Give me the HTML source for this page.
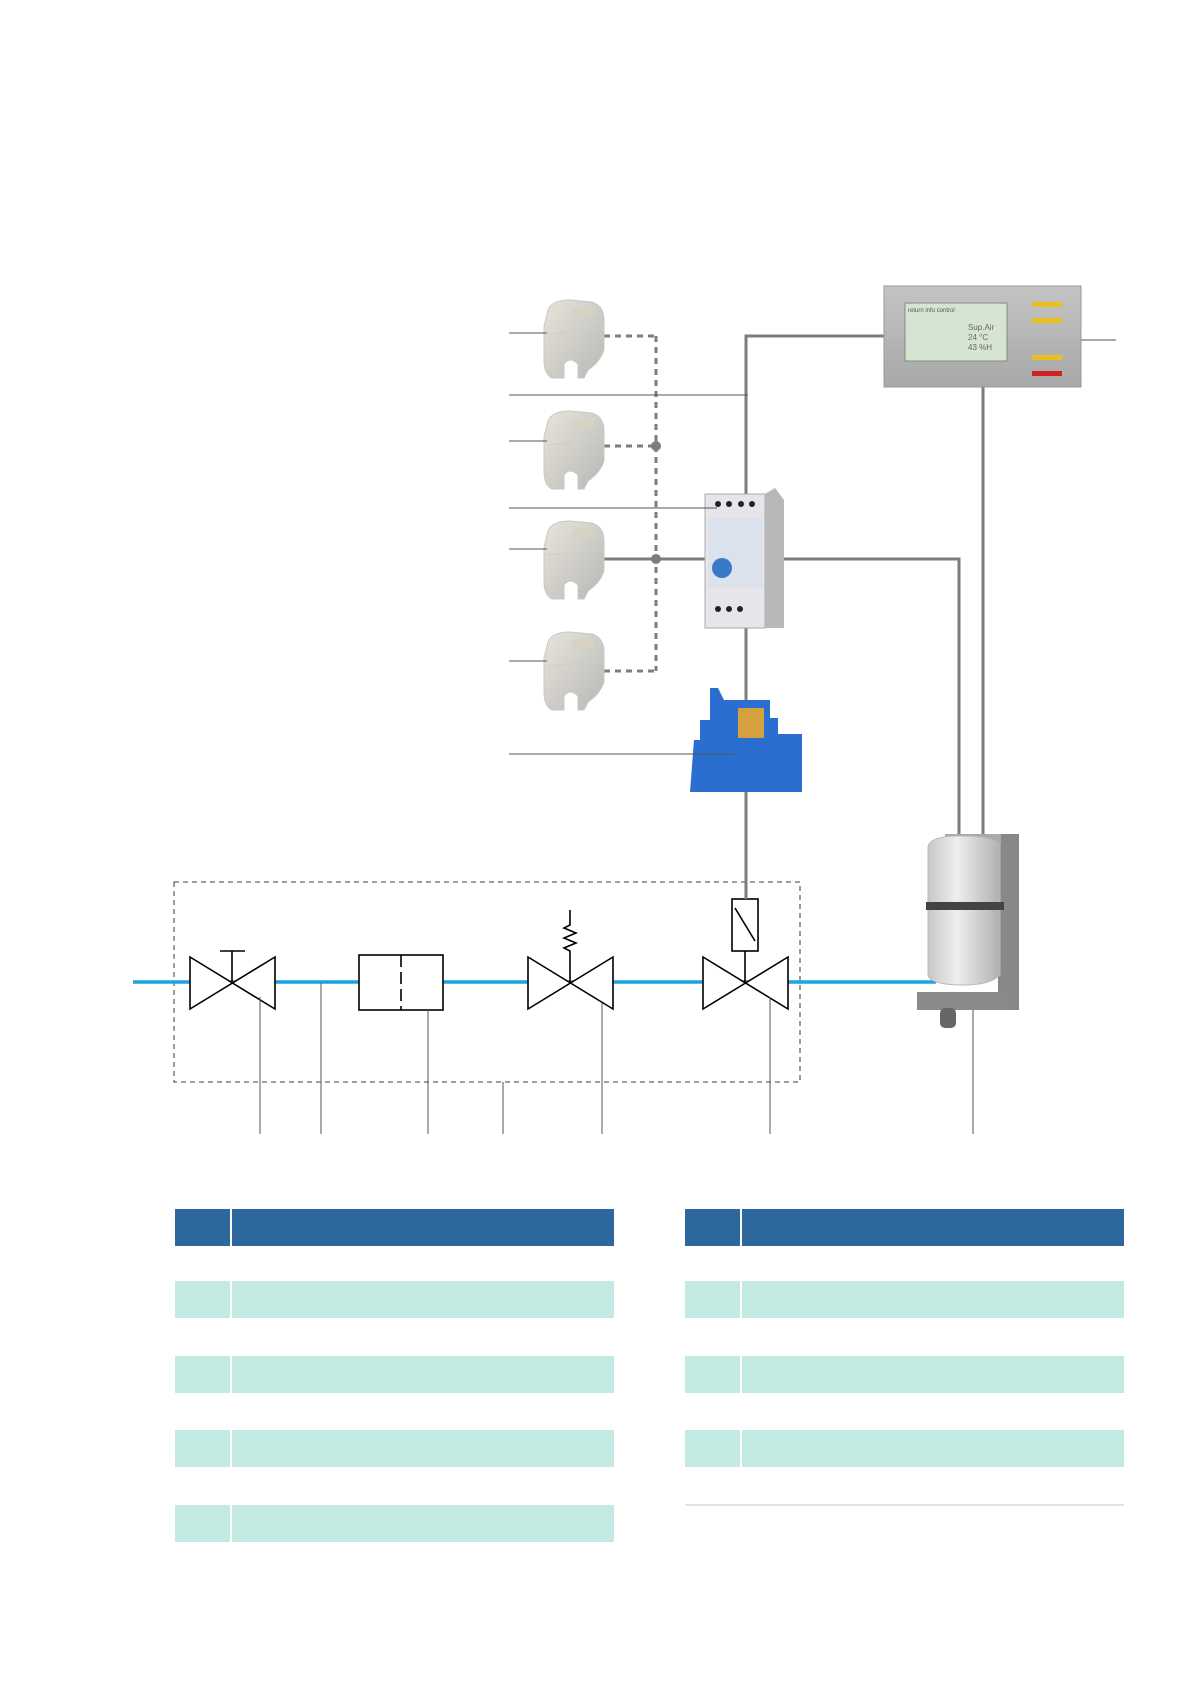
<!DOCTYPE html>
<html><head><meta charset="utf-8"><style>html,body{margin:0;padding:0;background:#fff}svg{display:block}</style></head>
<body>
<svg width="1191" height="1684" viewBox="0 0 1191 1684" xmlns="http://www.w3.org/2000/svg" font-family="Liberation Sans, sans-serif">
<defs>
<linearGradient id="sg" x1="0" y1="0" x2="1" y2="1"><stop offset="0" stop-color="#e8e4dc"/><stop offset="1" stop-color="#b8b8b4"/></linearGradient>
<linearGradient id="dg" x1="0" y1="0" x2="0" y2="1"><stop offset="0" stop-color="#c4c4c4"/><stop offset="1" stop-color="#a8a8a8"/></linearGradient>
<linearGradient id="cg" x1="0" y1="0" x2="1" y2="0"><stop offset="0" stop-color="#c8c8c8"/><stop offset="0.4" stop-color="#eeeeee"/><stop offset="1" stop-color="#b0b0b0"/></linearGradient>
<g id="sensor">
<path d="M8 10 Q12 0 30 0 L52 2 Q64 6 64 20 L64 50 Q60 62 48 70 L44 78 L38 78 L38 64 Q30 56 24 64 L24 78 L12 78 Q4 74 4 60 L4 26 Z" fill="url(#sg)" stroke="#c8c8c4" stroke-width="1"/>
<rect x="32" y="8" width="22" height="8" fill="#d8d2c4"/>
<line x1="8" y1="34" x2="60" y2="30" stroke="#ccc"/>
</g>
</defs>

<!-- Tables -->
<g>
<rect x="175" y="1209" width="55" height="37" fill="#2d679d"/><rect x="232" y="1209" width="382" height="37" fill="#2d679d"/>
<rect x="685" y="1209" width="55" height="37" fill="#2d679d"/><rect x="742" y="1209" width="382" height="37" fill="#2d679d"/>
<g fill="#c2e9e2">
<rect x="175" y="1281" width="55" height="37"/><rect x="232" y="1281" width="382" height="37"/>
<rect x="175" y="1356" width="55" height="37"/><rect x="232" y="1356" width="382" height="37"/>
<rect x="175" y="1430" width="55" height="37"/><rect x="232" y="1430" width="382" height="37"/>
<rect x="175" y="1505" width="55" height="37"/><rect x="232" y="1505" width="382" height="37"/>
<rect x="685" y="1281" width="55" height="37"/><rect x="742" y="1281" width="382" height="37"/>
<rect x="685" y="1356" width="55" height="37"/><rect x="742" y="1356" width="382" height="37"/>
<rect x="685" y="1430" width="55" height="37"/><rect x="742" y="1430" width="382" height="37"/>
</g>
<line x1="685" y1="1505" x2="1124" y2="1505" stroke="#dcdcdc" stroke-width="1.5"/>
</g>

<!-- Dashed box -->
<rect x="174" y="882" width="626" height="200" fill="none" stroke="#666" stroke-width="1.3" stroke-dasharray="5,4"/>

<!-- Pipe -->
<line x1="133" y1="982" x2="936" y2="982" stroke="#1ba3e0" stroke-width="3.5"/>

<!-- Symbols -->
<g stroke="#000" stroke-width="1.6" fill="#fff">
<path d="M190 957 L275 1009 L275 957 L190 1009 Z"/>
<line x1="232" y1="982" x2="232" y2="951"/><line x1="220" y1="951" x2="245" y2="951"/>
<rect x="359" y="955" width="84" height="55"/>
<line x1="401" y1="955" x2="401" y2="1010" stroke-dasharray="12,5"/>
<path d="M528 957 L613 1009 L613 957 L528 1009 Z"/>
<polyline fill="none" points="570,982 570,951 564,948 576,943 564,938 576,933 564,928 570,925 570,910"/>
<path d="M703 957 L788 1009 L788 957 L703 1009 Z"/>
<line x1="745" y1="982" x2="745" y2="951"/>
<rect x="732" y="899" width="26" height="52"/>
<line x1="735" y1="908" x2="755" y2="941"/>
</g>

<!-- Leader lines bottom -->
<g stroke="#555" stroke-width="1">
<line x1="260" y1="997" x2="260" y2="1134"/>
<line x1="321" y1="983" x2="321" y2="1134"/>
<line x1="428" y1="1010" x2="428" y2="1134"/>
<line x1="503" y1="1082" x2="503" y2="1134"/>
<line x1="602" y1="1003" x2="602" y2="1134"/>
<line x1="770" y1="997" x2="770" y2="1134"/>
<line x1="973" y1="1003" x2="973" y2="1134"/>
</g>

<!-- Gray wiring -->
<g stroke="#7d7d7d" stroke-width="3" fill="none">
<polyline points="884,336 746,336 746,899"/>
<polyline points="784,559 959,559 959,837"/>
<line x1="983" y1="387" x2="983" y2="837"/>
<line x1="604" y1="559" x2="708" y2="559"/>
<g stroke-dasharray="6,5">
<line x1="656" y1="336" x2="656" y2="671"/>
<line x1="604" y1="336" x2="656" y2="336"/>
<line x1="604" y1="446" x2="656" y2="446"/>
<line x1="604" y1="671" x2="656" y2="671"/>
</g>
</g>
<circle cx="656" cy="446" r="5" fill="#7d7d7d"/>
<circle cx="656" cy="559" r="5" fill="#7d7d7d"/>

<!-- Sensors -->
<use href="#sensor" x="540" y="300"/>
<use href="#sensor" x="540" y="411"/>
<use href="#sensor" x="540" y="521"/>
<use href="#sensor" x="540" y="632"/>

<!-- Display -->
<rect x="884" y="286" width="197" height="101" fill="url(#dg)" stroke="#999"/>
<rect x="905" y="303" width="102" height="58" fill="#d6e4d2" stroke="#888"/>
<text x="908" y="312" font-size="6" fill="#555">return  info     control</text>
<text x="968" y="330" font-size="8" fill="#666">Sup.Air</text>
<text x="968" y="340" font-size="8" fill="#666">24  °C</text>
<text x="968" y="350" font-size="8" fill="#666">43  %H</text>
<rect x="1032" y="302" width="30" height="5" fill="#e8c020"/>
<rect x="1032" y="318" width="30" height="5" fill="#e8c020"/>
<rect x="1032" y="355" width="30" height="5" fill="#e8c020"/>
<rect x="1032" y="371" width="30" height="5" fill="#d02020"/>

<!-- Relay module (DIN) -->
<rect x="705" y="494" width="60" height="134" fill="#e6e6ea" stroke="#aaa"/>
<path d="M765 494 L775 488 L784 500 L784 628 L765 628 Z" fill="#b8b8b8"/>
<rect x="708" y="518" width="55" height="70" fill="#dce2ec"/>
<circle cx="722" cy="568" r="10" fill="#3a78c8"/>
<g fill="#222"><circle cx="718" cy="504" r="3"/><circle cx="729" cy="504" r="3"/><circle cx="741" cy="504" r="3"/><circle cx="752" cy="504" r="3"/><circle cx="718" cy="609" r="3"/><circle cx="729" cy="609" r="3"/><circle cx="740" cy="609" r="3"/></g>

<!-- Blue socket -->
<path d="M694 740 L700 740 L700 720 L710 720 L710 688 L718 688 L724 700 L770 700 L770 718 L778 718 L778 734 L802 734 L802 792 L690 792 Z" fill="#2a6fd0"/>
<rect x="738" y="708" width="26" height="30" fill="#d4a040"/>

<!-- Humidifier -->
<rect x="998" y="834" width="21" height="176" fill="#888"/>
<rect x="945" y="834" width="56" height="12" fill="#aaa"/>
<path d="M928 848 Q928 836 960 836 Q1000 836 1000 848 L1000 975 Q990 985 964 985 Q930 985 928 975 Z" fill="url(#cg)" stroke="#bbb"/>
<rect x="926" y="902" width="78" height="8" fill="#444"/>
<rect x="917" y="992" width="90" height="18" fill="#8a8a8a"/>
<rect x="940" y="1008" width="16" height="20" rx="5" fill="#666"/>

<!-- Leader lines left/right -->
<g stroke="#555" stroke-width="1">
<line x1="509" y1="333" x2="547" y2="333"/>
<line x1="509" y1="441" x2="547" y2="441"/>
<line x1="509" y1="549" x2="547" y2="549"/>
<line x1="509" y1="661" x2="547" y2="661"/>
<line x1="509" y1="395" x2="748" y2="395"/>
<line x1="509" y1="508" x2="717" y2="508"/>
<line x1="509" y1="754" x2="734" y2="754"/>
<line x1="1081" y1="340" x2="1116" y2="340"/>
</g>
</svg>
</body></html>
